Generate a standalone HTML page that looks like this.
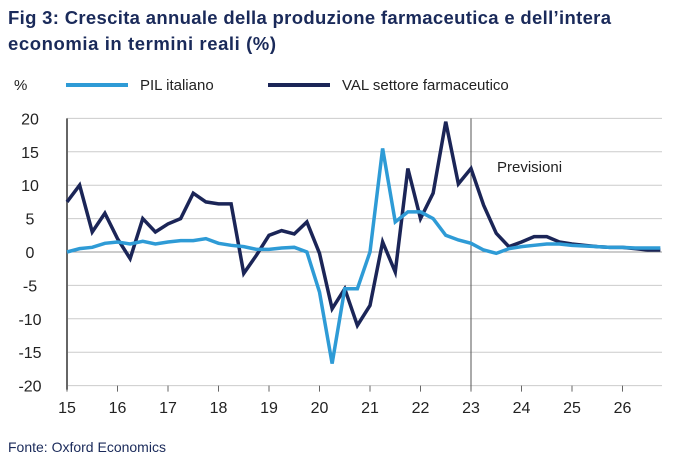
<!DOCTYPE html>
<html><head><meta charset="utf-8"><style>
body{margin:0;background:#fff;font-family:"Liberation Sans",sans-serif;}
svg{display:block}
</style></head><body>
<svg width="688" height="465">
<text x="8" y="24" font-size="18.5" font-weight="bold" fill="#1a2a5a" textLength="603">Fig 3: Crescita annuale della produzione farmaceutica e dell’intera</text>
<text x="8" y="50" font-size="18.5" font-weight="bold" fill="#1a2a5a" textLength="268">economia in termini reali (%)</text>
<text x="14" y="90" font-size="15" fill="#222">%</text>
<line x1="66" y1="85" x2="128" y2="85" stroke="#2e9bd6" stroke-width="4"/>
<text x="140" y="90" font-size="15" fill="#222">PIL italiano</text>
<line x1="268" y1="85" x2="330" y2="85" stroke="#1b2557" stroke-width="4"/>
<text x="342" y="90" font-size="15" fill="#222">VAL settore farmaceutico</text>
<g id="grid"></g>
<g id="marks"></g>
<text x="497" y="172" font-size="15" fill="#222">Previsioni</text>
<text x="8" y="452" font-size="14" fill="#1a2a5a">Fonte: Oxford Economics</text>
</svg>
<script>
const yTicks=[20,15,10,5,0,-5,-10,-15,-20];
const xYears=[15,16,17,18,19,20,21,22,23,24,25,26];
const pil=[0,0.5,0.7,1.3,1.5,1.2,1.6,1.2,1.5,1.7,1.7,2,1.3,1,0.8,0.4,0.4,0.6,0.7,0,-6,-16.7,-5.5,-5.5,0,15.5,4.5,6,6,5,2.5,1.8,1.3,0.3,-0.2,0.5,0.8,1,1.2,1.2,1,0.9,0.8,0.7,0.7,0.6,0.6,0.6];
const val=[7.5,10,3,5.8,2,-1,5,3,4.2,5,8.8,7.5,7.2,7.2,-3.2,-0.5,2.5,3.2,2.7,4.5,-0.2,-8.5,-5.5,-11,-8,1.5,-3,12.5,5,8.8,19.5,10.2,12.5,7,2.8,0.8,1.5,2.3,2.3,1.5,1.2,1,0.8,0.7,0.7,0.5,0.3,0.3];
const forecastYear=23;
const NS="http://www.w3.org/2000/svg";
const X0=67,PX=50.5;
function xs(yr){return X0+(yr-15)*PX;}
function xi(i){return xs(15+i/4);}
function ys(v){return 252-v*6.68;}
const grid=document.getElementById('grid'),marks=document.getElementById('marks');
function mk(tag,attrs,parent){const e=document.createElementNS(NS,tag);for(const k in attrs)e.setAttribute(k,attrs[k]);parent.appendChild(e);return e;}
yTicks.forEach(v=>{
 const l=mk('line',{x1:X0,x2:662,y1:ys(v),y2:ys(v),stroke:v===0?'#999':'#ccc','stroke-width':1},grid);
 
 
 const t=mk('text',{x:30,y:ys(v)+6,'font-size':16,'text-anchor':'middle',fill:'#222'},grid);
 t.textContent=v;
 
 
});
const ax=mk('line',{x1:X0,x2:X0,y1:ys(20),y2:ys(-20)+4,stroke:'#666','stroke-width':2},grid);


xYears.forEach(y=>{
 const tk=mk('line',{x1:xs(y),x2:xs(y),y1:ys(-20),y2:ys(-20)+6,stroke:'#666'},grid);
 
 
 const t=mk('text',{x:xs(y),y:413,'font-size':16,'text-anchor':'middle',fill:'#222'},grid);
 t.textContent=y;
 
 
});
const fl=mk('line',{x1:xs(forecastYear),x2:xs(forecastYear),y1:ys(20),y2:ys(-20)+4,stroke:'#555','stroke-width':1},grid);


function line(arr,color,name){
 const p=mk('polyline',{points:arr.map((v,i)=>xi(i)+','+ys(v)).join(' '),fill:'none',stroke:color,'stroke-width':3.5,'stroke-linejoin':'miter'},marks);
 
 
}
line(val,'#1b2557','val-line');
line(pil,'#2e9bd6','pil-line');
</script>
</body></html>
